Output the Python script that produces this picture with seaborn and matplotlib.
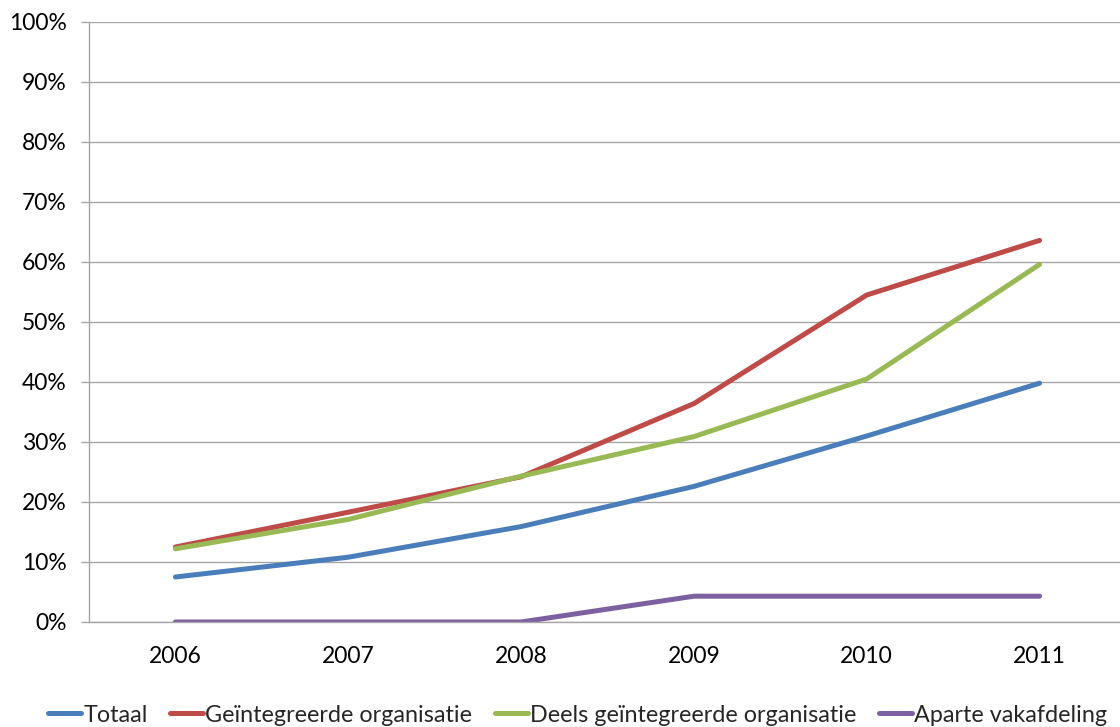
import matplotlib
matplotlib.use("Agg")
import matplotlib.pyplot as plt
import seaborn as sns
import pandas as pd
from matplotlib.ticker import FixedLocator, PercentFormatter

years = ["2006", "2007", "2008", "2009", "2010", "2011"]
totaal = [7.5, 10.8, 15.9, 22.6, 31.0, 39.8]
geintegreerd = [12.5, 18.3, 24.2, 36.4, 54.5, 63.6]
deels = [12.2, 17.1, 24.3, 30.9, 40.5, 59.6]
apart = [0.0, 0.0, 0.0, 4.3, 4.3, 4.3]

series_names = ["Totaal", "Geïntegreerde organisatie",
                "Deels geïntegreerde organisatie", "Aparte vakafdeling"]
colors = ["#4A7EBB", "#BE4B48", "#98B954", "#7D60A0"]

rows = []
for name, vals in zip(series_names, [totaal, geintegreerd, deels, apart]):
    for i, (yr, v) in enumerate(zip(years, vals)):
        rows.append({"pos": i, "jaar": yr, "waarde": v, "reeks": name})
df = pd.DataFrame(rows)

sns.set_theme(style="white")
plt.rcParams["font.family"] = ["Lato", "DejaVu Sans"]

fig = plt.figure(figsize=(11.2, 7.27), dpi=100)
ax = fig.add_axes([89 / 1120, (727 - 622) / 727, (1126 - 89) / 1120, 600 / 727])

sns.lineplot(data=df, x="pos", y="waarde", hue="reeks", hue_order=series_names,
             palette=colors, linewidth=3.6, ax=ax, legend=False,
             solid_capstyle="round")

ax.set_xlim(-0.5, 5.5)
ax.set_ylim(0, 100)
ax.set_xlabel("")
ax.set_ylabel("")

ax.yaxis.set_major_locator(FixedLocator(range(0, 101, 10)))
ax.yaxis.set_major_formatter(PercentFormatter(decimals=0))
ax.grid(axis="y", color="#A6A6A6", linewidth=1.0)
ax.set_axisbelow(True)

ax.set_xticks(range(len(years)))
ax.set_xticklabels(years)
ax.set_xticks([i - 0.5 for i in range(len(years) + 1)], minor=True)
ax.tick_params(axis="x", which="major", length=0, pad=17, labelsize=16.5, colors="#000000")
ax.tick_params(axis="x", which="minor", length=6, width=1, color="#A6A6A6", direction="out")
ax.tick_params(axis="y", which="major", length=6, width=1, color="#A6A6A6",
               direction="out", left=True, pad=10, labelsize=16.5, colors="#000000")
ax.tick_params(axis="y", colors="#A6A6A6", labelcolor="#000000")

for side in ["top", "right"]:
    ax.spines[side].set_visible(False)
for side in ["left", "bottom"]:
    ax.spines[side].set_color("#A6A6A6")
    ax.spines[side].set_linewidth(1.0)

handles = [plt.Line2D([], [], color=c, linewidth=3.6, solid_capstyle="round") for c in colors]
fig.legend(handles, series_names, loc="center left", bbox_to_anchor=(48 / 1120, 1 - 715 / 727),
           ncol=4, frameon=False, fontsize=16.8, handlelength=1.42, handletextpad=0.1,
           columnspacing=0.95, borderaxespad=0, borderpad=0)

fig.savefig("out.png", dpi=100)
